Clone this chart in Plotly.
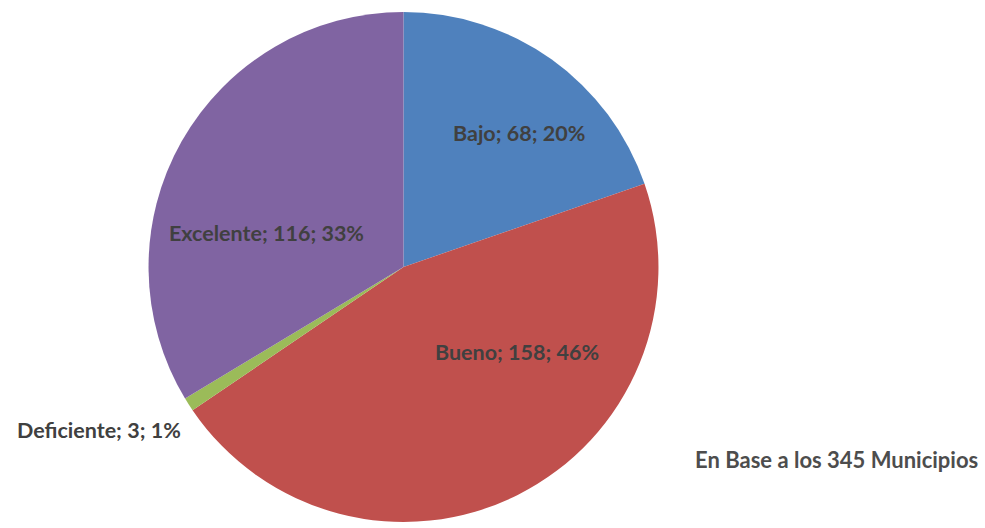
import plotly.graph_objects as go

categories = ["Bajo", "Bueno", "Deficiente", "Excelente"]
values = [68, 158, 3, 116]
percents = ["20%", "46%", "1%", "33%"]
colors = ["#4F81BD", "#C0504D", "#9BBB59", "#8064A2"]
note = "En Base a los 345 Municipios"

labels_text = [f"{c}; {v}; {p}" for c, v, p in zip(categories, values, percents)]

fig = go.Figure(go.Pie(
    labels=categories,
    values=values,
    textinfo="none",
    hoverinfo="label+value+percent",
    sort=False,
    direction="clockwise",
    rotation=0,
    marker=dict(colors=colors, line=dict(width=0)),
    domain=dict(x=[0.1508, 0.6685], y=[0.0095, 0.9792]),
    showlegend=False,
))

# data label placement (paper coordinates), Excel "best fit" style
label_pos = [(0.5274, 0.7481), (0.5249, 0.3333), (0.1010, 0.1856), (0.2701, 0.5587)]
label_font = dict(family="Lato", size=21.5, color="#404040", weight="bold")

for txt, (lx, ly) in zip(labels_text, label_pos):
    fig.add_annotation(text=txt, x=lx, y=ly, xref="paper", yref="paper",
                       xanchor="center", yanchor="middle", showarrow=False,
                       font=label_font)

fig.add_annotation(
    text=note, x=0.995, y=0.1288, xref="paper", yref="paper",
    xanchor="right", yanchor="middle", showarrow=False,
    font=dict(family="Lato", size=22, color="#4d4d4d", weight="bold"),
)

fig.update_layout(
    width=985, height=528,
    margin=dict(l=0, r=0, t=0, b=0),
    paper_bgcolor="white", plot_bgcolor="white",
)

fig.write_html("out.html", config={"displayModeBar": False},
               post_script="document.body.style.margin='0';")
